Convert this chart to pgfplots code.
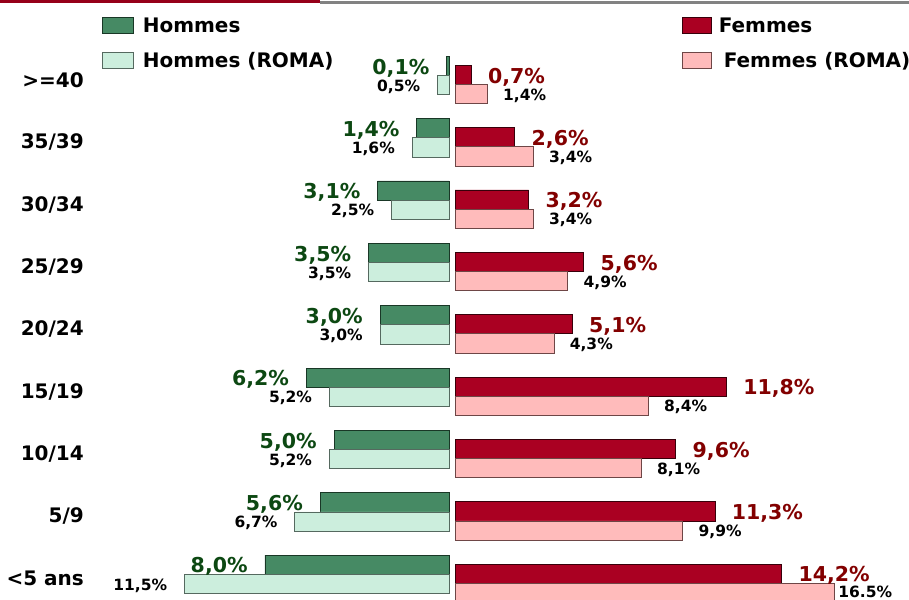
\documentclass[border=0pt]{standalone}
\usepackage{pgfplots}
\pgfplotsset{compat=1.18}
\usepackage{fontspec}
\setmainfont{DejaVu Sans}
\definecolor{hdark}{RGB}{70,138,100}
\definecolor{hdarkedge}{RGB}{25,55,38}
\definecolor{hlight}{RGB}{204,238,221}
\definecolor{hlightedge}{RGB}{85,105,95}
\definecolor{fdark}{RGB}{170,0,34}
\definecolor{fdarkedge}{RGB}{55,0,10}
\definecolor{flight}{RGB}{255,187,187}
\definecolor{flightedge}{RGB}{110,70,70}
\definecolor{glabel}{RGB}{12,72,18}
\definecolor{rlabel}{RGB}{130,0,0}
\definecolor{topred}{RGB}{150,0,25}
\definecolor{topgray}{RGB}{130,130,130}
\newcommand\fbig{\fontsize{20.5pt}{24pt}\selectfont\bfseries}
\newcommand\fleg{\fontsize{20pt}{24pt}\selectfont\bfseries}
\newcommand\fsmall{\fontsize{15.5pt}{18pt}\selectfont\bfseries}
\newcommand\fcat{\fontsize{20pt}{24pt}\selectfont\bfseries}
\newcommand\labsixteen{\hspace*{-12pt}\raisebox{-3pt}[0pt][0pt]{16.5\%}}
\begin{document}
\begin{tikzpicture}
\fill[topred] (0pt,596pt) rectangle (320pt,599pt);
\fill[topgray] (320pt,595pt) rectangle (909pt,597.5pt);

% ---------------- left: Hommes ----------------
\begin{axis}[
  at={(449pt,-37.65pt)}, anchor=south east,
  scale only axis, width=448.5pt, height=623.5pt,
  xmin=0, xmax=19.5, ymin=-1, ymax=9,
  x dir=reverse,
  xbar, bar width=19.2pt,
  axis line style={draw=none},
  xtick=\empty, ytick=\empty,
  major tick length=0pt,
  clip=false,
  point meta=explicit symbolic,
  legend style={at={(axis description cs:0.2263,0.9949)}, anchor=north west,
    draw=none, fill=none, inner sep=0pt, outer sep=0pt, font=\fleg,
    row sep=15pt, column sep=9pt,
    nodes={inner sep=0pt, text height=16pt, text depth=4pt}},
  legend image code/.code={\draw[#1] (0pt,-7pt) rectangle (31pt,9pt);},
  legend cell align=left,
]
\addplot[fill=hdark, draw=hdarkedge, line width=0.8pt, bar shift=9.6pt,
  nodes near coords,
  every node near coord/.append style={anchor=east, inner sep=0pt, xshift=-17pt, yshift=-2pt, font=\fbig, text=glabel}]
  coordinates {(8.0,0) [8,0\%] (5.6,1) [5,6\%] (5.0,2) [5,0\%] (6.2,3) [6,2\%]
    (3.0,4) [3,0\%] (3.5,5) [3,5\%] (3.1,6) [3,1\%] (1.4,7) [1,4\%] (0.1,8) [0,1\%]};
\addlegendentry{Hommes}
\addplot[fill=hlight, draw=hlightedge, line width=0.8pt, bar shift=-9.6pt,
  nodes near coords,
  every node near coord/.append style={anchor=east, inner sep=0pt, xshift=-17pt, yshift=-1.5pt, font=\fsmall, text=black}]
  coordinates {(11.5,0) [11,5\%] (6.7,1) [6,7\%] (5.2,2) [5,2\%] (5.2,3) [5,2\%]
    (3.0,4) [3,0\%] (3.5,5) [3,5\%] (2.5,6) [2,5\%] (1.6,7) [1,6\%] (0.5,8) [0,5\%]};
\addlegendentry{Hommes (ROMA)}
\end{axis}

% ---------------- right: Femmes ----------------
\begin{axis}[
  at={(455pt,-46.65pt)}, anchor=south west,
  scale only axis, width=454pt, height=623.5pt,
  xmin=0, xmax=19.7391, ymin=-1, ymax=9,
  xbar, bar width=19.2pt,
  axis line style={draw=none},
  xtick=\empty, ytick={0,...,8},
  yticklabels={<5 ans,5/9,10/14,15/19,20/24,25/29,30/34,35/39,>=40},
  major tick length=0pt,
  yticklabel style={font=\fcat, anchor=east, inner sep=0pt, xshift=-371pt, yshift=4.5pt},
  clip=false,
  point meta=explicit symbolic,
  legend style={at={(axis description cs:0.5,1.0094)}, anchor=north west,
    draw=none, fill=none, inner sep=0pt, outer sep=0pt, font=\fleg,
    row sep=15pt, column sep=7pt,
    nodes={inner sep=0pt, text height=16pt, text depth=4pt}},
  legend image code/.code={\draw[#1] (0pt,-7pt) rectangle (29pt,9pt);},
  legend cell align=left,
]
\addplot[fill=fdark, draw=fdarkedge, line width=0.8pt, bar shift=9.6pt,
  nodes near coords,
  every node near coord/.append style={anchor=west, inner sep=0pt, xshift=16.5pt, yshift=-2pt, font=\fbig, text=rlabel}]
  coordinates {(14.2,0) [14,2\%] (11.3,1) [11,3\%] (9.6,2) [9,6\%] (11.8,3) [11,8\%]
    (5.1,4) [5,1\%] (5.6,5) [5,6\%] (3.2,6) [3,2\%] (2.6,7) [2,6\%] (0.7,8) [0,7\%]};
\addlegendentry{Femmes}
\addplot[fill=flight, draw=flightedge, line width=0.8pt, bar shift=-9.6pt,
  nodes near coords,
  every node near coord/.append style={anchor=west, inner sep=0pt, xshift=15.5pt, yshift=-1.5pt, font=\fsmall, text=black}]
  coordinates {(16.5,0) [\labsixteen] (9.9,1) [9,9\%] (8.1,2) [8,1\%] (8.4,3) [8,4\%]
    (4.3,4) [4,3\%] (4.9,5) [4,9\%] (3.4,6) [3,4\%] (3.4,7) [3,4\%] (1.4,8) [1,4\%]};
\addlegendentry{\hspace*{5pt}Femmes (ROMA)}
\end{axis}

\pgfresetboundingbox
\path[use as bounding box] (0pt,0pt) rectangle (909pt,599pt);
\end{tikzpicture}
\end{document}
